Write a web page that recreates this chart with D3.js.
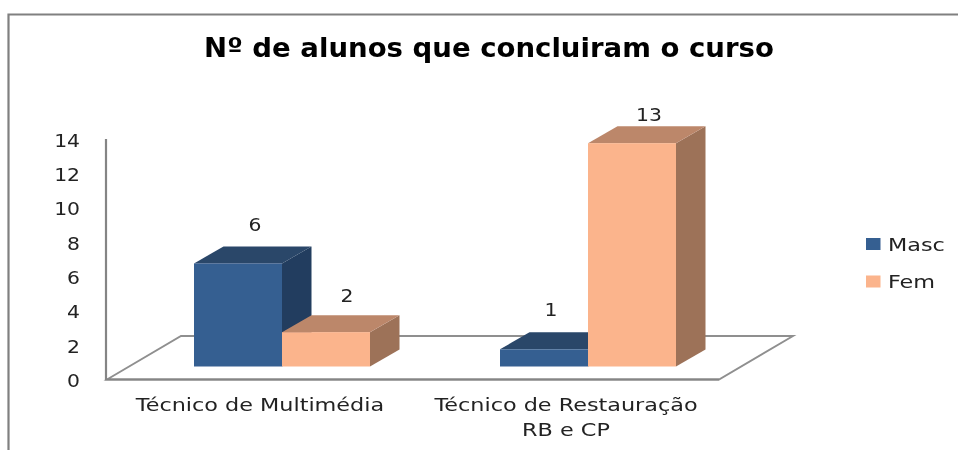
<!DOCTYPE html>
<html><head><meta charset="utf-8">
<style>html,body{margin:0;padding:0;background:#fff}svg{display:block}
text{font-family:"DejaVu Sans",sans-serif;fill:#222}</style>
<script src="https://cdn.jsdelivr.net/npm/d3@7/dist/d3.min.js"></script></head>
<body><svg id="c" width="958" height="450"></svg>
<script>
const titleText = "Nº de alunos que concluiram o curso";
const categories = [["Técnico de Multimédia"],["Técnico de Restauração","RB e CP"]];
const categoryKeys = ["Técnico de Multimédia","Técnico de Restauração RB e CP"];
const seriesNames = ["Masc","Fem"];
const masc = [6,1];
const fem = [2,13];
const tickValues = [0,2,4,6,8,10,12,14];
const colors = {Masc:{front:"#365f91",top:"#2a4669",side:"#203c5e"},Fem:{front:"#fbb48c",top:"#bc876b",side:"#9d7259"}};
const labelNudge = {"Masc0":[17,-32.6],"Fem0":[21,-30],"Masc1":[7,-33],"Fem1":[17,-22]};

const svg = d3.select("#c");
const defs = svg.append("defs");
defs.append("filter").attr("id","soft").append("feGaussianBlur").attr("stdDeviation",0.35);
const root = svg.append("g").attr("filter","url(#soft)");

function stretch(sel,k){sel.each(function(){const n=this;const L=n.getComputedTextLength();
  n.setAttribute("textLength",L*k);n.setAttribute("lengthAdjust","spacingAndGlyphs");});return sel;}

const y = d3.scaleLinear().domain([0,14]).range([379.5,139]);
const x = d3.scaleBand().domain(categoryKeys).range([107,719]);
const inner = d3.scaleBand().domain(seriesNames).range([0,176]);
const depth = {dx:29.5, dy:-17, baseLift:13, barShift:87};

// frame
root.append("path").attr("d","M8.5,450V14.5H958").attr("fill","none").attr("stroke","#808080").attr("stroke-width",2.2);

// floor
const fx0=x.range()[0], fx1=x.range()[1], fy=y(0), back=43.5, skew=74;
root.append("path").attr("d",`M${fx0},${fy}L${fx0+skew},${fy-back}H${fx1+skew}L${fx1},${fy}Z`)
  .attr("fill","none").attr("stroke","#8f8f8f").attr("stroke-width",1.9);
root.append("path").attr("d",`M${fx0-1},${y(14)}V${fy}H${fx1}`).attr("fill","none").attr("stroke","#858585").attr("stroke-width",2.2);

// y ticks
const yAxis = d3.axisLeft(y).tickValues(tickValues).tickSize(0).tickPadding(0);
const gy = root.append("g").attr("transform","translate(80,0)").call(yAxis);
gy.select(".domain").remove();
gy.selectAll("text").style("font-size","18px").style("font-family",'"DejaVu Sans",sans-serif').attr("dy","0.4em");
stretch(gy.selectAll("text"),1.13);

// bars
const rows=[];
categoryKeys.forEach((c,i)=>{rows.push({c,s:"Masc",v:masc[i],i});rows.push({c,s:"Fem",v:fem[i],i});});
const g = root.append("g");
rows.forEach(d=>{
  const x0=x(d.c)+depth.barShift+inner(d.s), w=inner.bandwidth(), x1=x0+w;
  const yb=y(0)-depth.baseLift, yt=y(d.v)-depth.baseLift, col=colors[d.s];
  g.append("path").attr("fill",col.side).attr("d",`M${x1},${yt}l${depth.dx},${depth.dy}V${yb+depth.dy}L${x1},${yb}Z`);
  g.append("path").attr("fill",col.top).attr("d",`M${x0},${yt}l${depth.dx},${depth.dy}H${x1+depth.dx}L${x1},${yt}Z`);
  g.append("rect").attr("x",x0).attr("y",yt).attr("width",w).attr("height",yb-yt).attr("fill",col.front);
});
rows.forEach(d=>{
  const x0=x(d.c)+depth.barShift+inner(d.s), w=inner.bandwidth(), yt=y(d.v)-depth.baseLift, n=labelNudge[d.s+d.i];
  stretch(root.append("text").attr("x",x0+w/2+n[0]).attr("y",yt+n[1]).attr("text-anchor","middle")
    .style("font-size","18px").text(d.v),1.13);
});

// category labels
categories.forEach((lines,i)=>{
  const cx=x(categoryKeys[i])+x.bandwidth()/2;
  lines.forEach((t,j)=>stretch(root.append("text").attr("x",cx).attr("y",411+j*24.5).attr("text-anchor","middle")
    .style("font-size","18px").text(t),1.24));
});

// title
stretch(root.append("text").attr("x",489).attr("y",57).attr("text-anchor","middle")
  .style("font-size","26px").style("font-weight",700).style("fill","#000").text(titleText),1.06);

// legend
const legY = d3.scalePoint().domain(seriesNames).range([244,281.5]);
seriesNames.forEach(s=>{
  root.append("rect").attr("x",866).attr("y",legY(s)-6).attr("width",14.5).attr("height",12).attr("fill",colors[s].front);
  stretch(root.append("text").attr("x",888).attr("y",legY(s)+6.8).style("font-size","18px").text(s),1.24);
});
</script></body></html>
